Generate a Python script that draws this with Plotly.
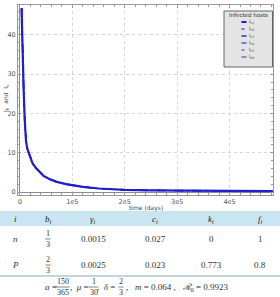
import plotly.graph_objects as go

# ---------------- data ----------------
time_days = [3000, 5000, 7000, 9000, 11500, 14000, 18000, 24000, 30000, 37000,
             45000, 56000, 70000, 88000, 100000, 120000, 150000, 200000,
             250000, 300000, 350000, 400000, 450000, 482000]
i_h1 = [46.8, 34.0, 26.0, 18.5, 13.0, 11.0, 9.3, 7.3, 6.2, 5.1,
        4.1, 3.3, 2.6, 2.0, 1.7, 1.3, 0.9, 0.55,
        0.42, 0.35, 0.30, 0.27, 0.25, 0.24]
# the other host curves coincide with the first one in the picture
series_names = ["I<sub>h1</sub>", "I<sub>h2</sub>", "I<sub>h3</sub>",
                "I<sub>h4</sub>", "I<sub>h5</sub>", "I<sub>h6</sub>"]
series_values = [i_h1, i_h1, i_h1, i_h1, i_h1, i_h1]
series_dash = ["solid", "dot", "dash", "dash", "dot", "dashdot"]
series_width = [2.2, 1.2, 1.6, 1.2, 1.0, 1.0]

x_tickvals = [0, 100000, 200000, 300000, 400000]
x_ticktext = ["0", "1e5", "2e5", "3e5", "4e5"]
y_tickvals = [0, 10, 20, 30, 40]

table_header = ["<i>i</i>", "<i>b</i><sub><i>i</i></sub>", "<i>γ</i><sub><i>i</i></sub>",
                "<i>c</i><sub><i>i</i></sub>", "<i>k</i><sub><i>i</i></sub>", "<i>f</i><sub><i>i</i></sub>"]
row_i = ["<i>n</i>", "<i>P</i>"]
row_b = ["1/3", "2/3"]
row_gamma = ["0.0015", "0.0025"]
row_c = ["0.027", "0.023"]
row_k = ["0", "0.773"]
row_f = ["1", "0.8"]

# ---------------- layout helpers ----------------
W, H = 280, 297
L, R, T, B = 18, 7, 5, 102
PW, PH = W - L - R, H - T - B


def px_x(x):
    return (x - L) / PW


def px_y(y):
    return (H - B - y) / PH


BLUE = "#1f1fcf"
SERIF = "Liberation Serif"
SANS = "DejaVu Sans"
TXT = "#333333"

annotations = []
shapes = []


def note(x, y, text, size, color=TXT, family=SERIF, xanchor="center", angle=0):
    annotations.append(dict(x=px_x(x), y=px_y(y), xref="paper", yref="paper",
                            xanchor=xanchor, yanchor="middle", text=text,
                            showarrow=False, textangle=angle,
                            font=dict(size=size, color=color, family=family)))


fig = go.Figure()
for k in range(len(series_names) - 1, -1, -1):
    fig.add_trace(go.Scatter(
        x=time_days, y=series_values[k], mode="lines", name=series_names[k],
        line=dict(color=BLUE, width=series_width[k], dash=series_dash[k]),
        showlegend=False))

# axis titles
note(6, 98, "I<sub>h</sub>  and  I<sub>v</sub>", 6, "#444", SANS, angle=-90)
note(146, 208, "time (days)", 6, "#444", SANS)

# hand-drawn legend (compact like the reference)
shapes.append(dict(type="rect", xref="paper", yref="paper",
                   x0=px_x(224), x1=px_x(272.5), y0=px_y(67), y1=px_y(11),
                   fillcolor="#e4e4e4", line=dict(color="#666", width=1)))
note(248, 15.5, "Infected hosts", 5.5, "#333", SANS)
for k, name in enumerate(series_names):
    ly = 22 + 7 * k
    shapes.append(dict(type="line", xref="paper", yref="paper",
                       x0=px_x(241.5), x1=px_x(246.5), y0=px_y(ly), y1=px_y(ly),
                       line=dict(color=BLUE, width=series_width[k] * 0.9,
                                 dash="solid" if k == 0 else ("dot" if series_dash[k] == "dot" else "solid"))))
    note(247, ly + 0.5, name, 4.5, "#444", SANS, xanchor="left")

# table header band
shapes.append(dict(type="rect", xref="paper", yref="paper",
                   x0=px_x(0), x1=px_x(W), y0=px_y(226), y1=px_y(211),
                   fillcolor="#c9e5f2", line=dict(width=0), layer="below"))
# line under table
shapes.append(dict(type="line", xref="paper", yref="paper",
                   x0=px_x(0), x1=px_x(W), y0=px_y(276), y1=px_y(276),
                   line=dict(color="#86a9bd", width=1)))

col_x = [15, 48, 93, 155, 211, 260]
for cx, h in zip(col_x, table_header):
    note(cx, 219, h, 9, "#222")


def add_fraction(cx, cy, frac, size=8):
    num, den = frac.split("/")
    note(cx, cy - 5.5, num, size)
    note(cx, cy + 5.5, den, size)
    half = 2.2 * max(len(num), len(den)) + 0.5
    shapes.append(dict(type="line", xref="paper", yref="paper",
                       x0=px_x(cx - half), x1=px_x(cx + half),
                       y0=px_y(cy), y1=px_y(cy),
                       line=dict(color=TXT, width=0.6)))


row_y = [239, 265]
for r in range(2):
    cells = [row_i[r], None, row_gamma[r], row_c[r], row_k[r], row_f[r]]
    for cx, cell in zip(col_x, cells):
        if cell is None:
            continue
        note(cx, row_y[r], cell, 9)
    add_fraction(col_x[1], row_y[r], row_b[r])

# parameter line below the table
fy = 287
note(51, fy, "<i>a</i> =", 9)
note(79.5, fy, ",  <i>μ</i> =", 9)
note(106, fy, ",  <i>δ</i> =", 9)
add_fraction(62.5, fy, "150/365")
add_fraction(93.5, fy, "1/30")
add_fraction(121, fy, "2/3")
note(124, fy, ",   <i>m</i> = 0.064 ,   <i>ℛ</i><sub>0</sub> = 0.9923", 9, xanchor="left")

axis_common = dict(showline=True, mirror="allticks", linecolor="#9a9a9a", linewidth=1,
                   ticks="inside", ticklen=3, tickcolor="#9a9a9a",
                   showgrid=True, gridcolor="#d6d6d6", griddash="dot", gridwidth=0.8,
                   zeroline=True, zerolinecolor="#8a8a8a", zerolinewidth=1,
                   tickfont=dict(size=6.5, color="#555", family=SANS))

fig.update_layout(
    width=W, height=H, autosize=False,
    margin=dict(l=L, r=R, t=T, b=B),
    paper_bgcolor="white", plot_bgcolor="white",
    xaxis=dict(range=[-3800, 483000], tickvals=x_tickvals, ticktext=x_ticktext,
               minor=dict(ticks="inside", ticklen=2, dtick=20000, tickcolor="#9a9a9a", showgrid=False),
               **axis_common),
    yaxis=dict(range=[-0.75, 47.6], tickvals=y_tickvals,
               minor=dict(ticks="inside", ticklen=2, dtick=2, tickcolor="#9a9a9a", showgrid=False),
               **axis_common),
    showlegend=False,
    annotations=annotations, shapes=shapes,
)

fig.write_html("out.html")
